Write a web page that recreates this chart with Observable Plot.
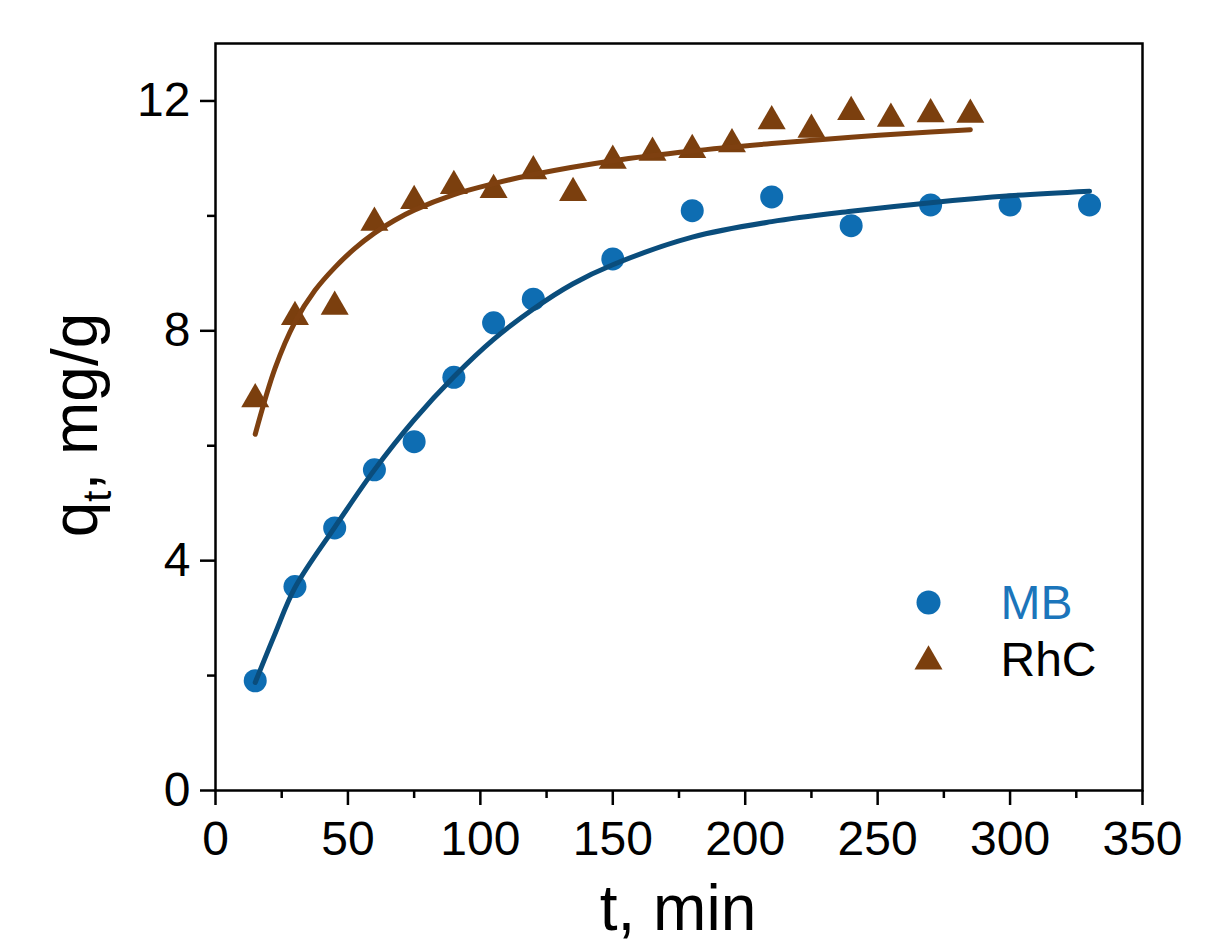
<!DOCTYPE html>
<html><head><meta charset="utf-8">
<script src="https://cdn.jsdelivr.net/npm/d3@7"></script>
<script src="https://cdn.jsdelivr.net/npm/@observablehq/plot@0.6"></script>
<style>body{margin:0;background:#fff}</style>
</head><body><div id="chart"></div>
<script>
// Measured data
const tMB = [15,30,45,60,75,90,105,120,150,180,210,240,270,300,330];
const qMB = [1.91,3.55,4.57,5.58,6.07,7.19,8.14,8.55,9.25,10.09,10.33,9.83,10.19,10.19,10.19];
const tRhC = [15,30,45,60,75,90,105,120,135,150,165,180,195,210,225,240,255,270,285];
const qRhC = [6.81,8.24,8.42,9.88,10.26,10.52,10.45,10.78,10.4,10.96,11.1,11.15,11.25,11.65,11.5,11.81,11.69,11.77,11.76];
// Fitted curves
const tFitMB = [15,22.5,30,45,60,75,90,105,120,135,150,180,210,240,270,300,330];
const qFitMB = [1.88,2.73,3.53,4.58,5.58,6.45,7.2,7.85,8.38,8.82,9.15,9.63,9.9,10.08,10.23,10.35,10.43];
const tFitRhC = [15,22.5,30,37.5,45,52.5,60,67.5,75,90,105,120,150,180,210,240,270,285];
const qFitRhC = [6.2,7.35,8.15,8.7,9.1,9.43,9.7,9.92,10.1,10.37,10.56,10.72,10.96,11.13,11.26,11.37,11.46,11.5];
// Axis ticks
const xMajor = [0,50,100,150,200,250,300,350];
const xMinor = [25,75,125,175,225,275,325];
const yMajor = [0,4,8,12];
const yMinor = [2,6,10];
const seriesNames = ["MB","RhC"];

const cMB = "#0E6DB2", cMBLine = "#0A4D7C", cMBText = "#1B75BB";
const cRhC = "#7B3F0E", cRhCLine = "#7E4010";

const mb = tMB.map((t,i)=>({t, q:qMB[i]}));
const rhc = tRhC.map((t,i)=>({t, q:qRhC[i]}));
const fitMB = tFitMB.map((t,i)=>({t, q:qFitMB[i]}));
const fitRhC = tFitRhC.map((t,i)=>({t, q:qFitRhC[i]}));

const font = "Liberation Sans, Arial, Helvetica, sans-serif";
const chart = Plot.plot({
  width: 1227, height: 946,
  marginLeft: 215, marginRight: 85, marginTop: 43, marginBottom: 156,
  x: {domain: [0,350]},
  y: {domain: [0,13]},
  style: {fontFamily: font, background: "white", color: "black"},
  marks: [
    Plot.dot(mb, {x:"t", y:"q", r:11.5, fill:cMB, stroke:"none"}),
    Plot.dot(rhc, {x:"t", y:"q", r:10.4, symbol:"triangle", fill:cRhC, stroke:"none"}),
    Plot.line(fitMB, {x:"t", y:"q", stroke:cMBLine, strokeWidth:5, curve:"catmull-rom"}),
    Plot.line(fitRhC, {x:"t", y:"q", stroke:cRhCLine, strokeWidth:5, curve:"catmull-rom"}),
    Plot.axisX(xMajor, {tickSize:15, tickPadding:15, fontSize:48, strokeWidth:2.5, label:null, tickFormat:d=>String(d)}),
    Plot.axisX(xMinor, {tickSize:8, strokeWidth:2.5, label:null, tickFormat:()=>""}),
    Plot.axisY(yMajor, {tickSize:15, tickPadding:10, fontSize:48, strokeWidth:2.5, label:null, tickFormat:d=>String(d)}),
    Plot.axisY(yMinor, {tickSize:8, strokeWidth:2.5, label:null, tickFormat:()=>""}),
    Plot.frame({stroke:"black", strokeWidth:2.5}),
    // legend
    Plot.dot([seriesNames[0]], {frameAnchor:"top-left", dx:713, dy:559, r:12, fill:cMB}),
    Plot.dot([seriesNames[1]], {frameAnchor:"top-left", dx:713, dy:618, r:10.4, symbol:"triangle", fill:cRhC}),
    Plot.text([seriesNames[0]], {text:d=>d, frameAnchor:"top-left", dx:785, dy:560, fontSize:48, fill:cMBText, textAnchor:"start", lineAnchor:"middle"}),
    Plot.text([seriesNames[1]], {text:d=>d, frameAnchor:"top-left", dx:785, dy:617, fontSize:48, fill:"black", textAnchor:"start", lineAnchor:"middle"})
  ]
});

const svg = d3.select(chart);
// y axis title with subscript
const yt = svg.append("text")
  .attr("transform", "translate(97,425) rotate(-90)")
  .attr("text-anchor", "middle")
  .attr("font-family", font)
  .attr("font-size", 64)
  .attr("fill", "black");
yt.append("tspan").text("q");
yt.append("tspan").attr("font-size", 40).attr("dy", 14).text("t");
yt.append("tspan").attr("dy", -14).text(", mg/g");
// x axis title
svg.append("text")
  .attr("x", 678).attr("y", 930)
  .attr("text-anchor", "middle")
  .attr("font-family", font)
  .attr("font-size", 64)
  .attr("fill", "black")
  .text("t, min");

document.getElementById("chart").append(chart);
</script></body></html>
